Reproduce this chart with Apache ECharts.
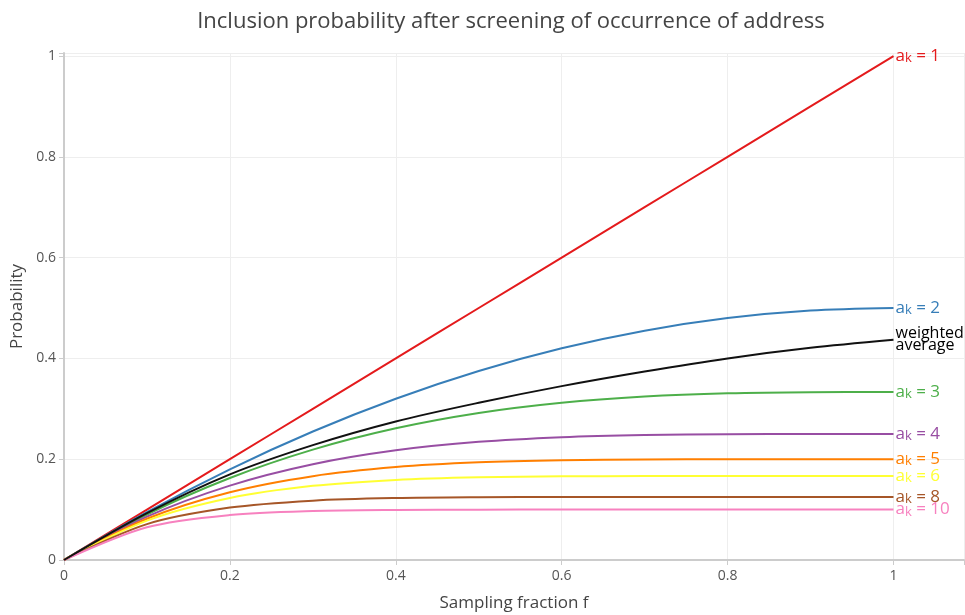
<!DOCTYPE html>
<html>
<head>
<meta charset="utf-8">
<script src="https://cdn.jsdelivr.net/npm/echarts@6/dist/echarts.min.js"></script>
<style>
  html, body { margin: 0; padding: 0; background: #fff; }
  #chart { width: 965px; height: 615px; }
</style>
</head>
<body>
<div id="chart"></div>
<script>
// Sampling fraction f
const fractions = [0, 0.1, 0.2, 0.3, 0.4, 0.5, 0.6, 0.7, 0.8, 0.9, 1.0];

// Inclusion probability for an address occurring a_k times
const probA1  = [0, 0.1, 0.2, 0.3, 0.4, 0.5, 0.6, 0.7, 0.8, 0.9, 1.0];
const probA2  = [0, 0.095, 0.18, 0.255, 0.32, 0.375, 0.42, 0.455, 0.48, 0.495, 0.5];
const probA3  = [0, 0.0903, 0.1627, 0.219, 0.2613, 0.2917, 0.312, 0.3243, 0.3307, 0.333, 0.3333];
const probA4  = [0, 0.086, 0.1476, 0.19, 0.2176, 0.2344, 0.2436, 0.248, 0.2496, 0.25, 0.25];
const probA5  = [0, 0.0819, 0.1345, 0.1664, 0.1844, 0.1938, 0.198, 0.1995, 0.1999, 0.2, 0.2];
const probA6  = [0, 0.0781, 0.123, 0.1471, 0.1589, 0.1641, 0.166, 0.1666, 0.1667, 0.1667, 0.1667];
const probA8  = [0, 0.0712, 0.104, 0.1178, 0.1229, 0.1245, 0.1249, 0.125, 0.125, 0.125, 0.125];
const probA10 = [0, 0.0651, 0.0893, 0.0972, 0.0994, 0.0999, 0.1, 0.1, 0.1, 0.1, 0.1];
const probWeighted = [0, 0.093, 0.17, 0.228, 0.275, 0.312, 0.345, 0.374, 0.4, 0.421, 0.437];

const xTicks = [0, 0.2, 0.4, 0.6, 0.8, 1];
const yTicks = [0, 0.2, 0.4, 0.6, 0.8, 1];

const curves = [
  { k: '1',  values: probA1,  color: '#e41a1c' },
  { k: '2',  values: probA2,  color: '#377eb8' },
  { k: null, values: probWeighted, color: '#111111' },
  { k: '3',  values: probA3,  color: '#4daf4a' },
  { k: '4',  values: probA4,  color: '#984ea3' },
  { k: '5',  values: probA5,  color: '#ff7f00' },
  { k: '6',  values: probA6,  color: '#ffff33' },
  { k: '8',  values: probA8,  color: '#a65628' },
  { k: '10', values: probA10, color: '#f781bf' }
];

const FONT = '"Open Sans", "Noto Sans", sans-serif';

const series = curves.map(c => {
  const isAvg = c.k === null;
  const label = isAvg
    ? {
        show: true,
        distance: 2,
        formatter: 'weighted\naverage',
        color: '#000',
        fontFamily: FONT,
        fontSize: 16,
        lineHeight: 12
      }
    : {
        show: true,
        distance: 2,
        formatter: '{a|a}{s|k}{a| = ' + c.k + '}',
        rich: {
          a: { color: c.color, fontFamily: FONT, fontSize: 17, lineHeight: 18 },
          s: { color: c.color, fontFamily: FONT, fontSize: 13, lineHeight: 18, verticalAlign: 'bottom', padding: [12, 0, 0, 0] }
        }
      };
  return {
    name: isAvg ? 'weighted average' : 'a_k = ' + c.k,
    type: 'line',
    data: fractions.map((f, i) => [f, c.values[i]]),
    smooth: 0.3,
    showSymbol: false,
    symbol: 'none',
    lineStyle: { color: c.color, width: 2 },
    itemStyle: { color: c.color },
    endLabel: label,
    animation: false,
    z: isAvg ? 3 : 2
  };
});

const chart = echarts.init(document.getElementById('chart'), null, { renderer: 'canvas' });
chart.setOption({
  backgroundColor: '#fff',
  animation: false,
  title: {
    text: 'Inclusion probability after screening of occurrence of address',
    left: 506,
    top: 6,
    textAlign: 'center',
    textStyle: { fontFamily: FONT, fontSize: 22, fontWeight: 'normal', color: '#444' }
  },
  grid: { left: 64, right: 1, top: 53, bottom: 55, containLabel: false, outerBoundsMode: 'none' },
  xAxis: {
    type: 'value',
    min: 0,
    max: 1.085,
    interval: 0.2,
    name: 'Sampling fraction f',
    nameLocation: 'middle',
    nameGap: 35,
    nameTextStyle: { fontFamily: FONT, fontSize: 17, color: '#444' },
    axisLine: { show: true, onZero: false, lineStyle: { color: '#cccccc', width: 2 } },
    axisTick: { show: true, length: 5, lineStyle: { color: '#cccccc', width: 1 } },
    axisLabel: {
      fontFamily: FONT, fontSize: 14, color: '#555', margin: 9,
      formatter: v => (xTicks.some(t => Math.abs(t - v) < 1e-9) ? String(+v.toFixed(1)) : '')
    },
    splitLine: { show: true, lineStyle: { color: '#eeeeee', width: 1 } }
  },
  yAxis: {
    type: 'value',
    min: 0,
    max: 1.006,
    interval: 0.2,
    name: 'Probability',
    nameLocation: 'middle',
    nameRotate: 90,
    nameGap: 33,
    nameTextStyle: { fontFamily: FONT, fontSize: 17, color: '#444' },
    axisLine: { show: true, lineStyle: { color: '#cccccc', width: 2 } },
    axisTick: { show: true, length: 5, lineStyle: { color: '#cccccc', width: 1 } },
    axisLabel: {
      fontFamily: FONT, fontSize: 14, color: '#555', margin: 8,
      formatter: v => (yTicks.some(t => Math.abs(t - v) < 1e-9) ? String(+v.toFixed(1)) : '')
    },
    splitLine: { show: true, lineStyle: { color: '#eeeeee', width: 1 } }
  },
  series: series
});
</script>
</body>
</html>
